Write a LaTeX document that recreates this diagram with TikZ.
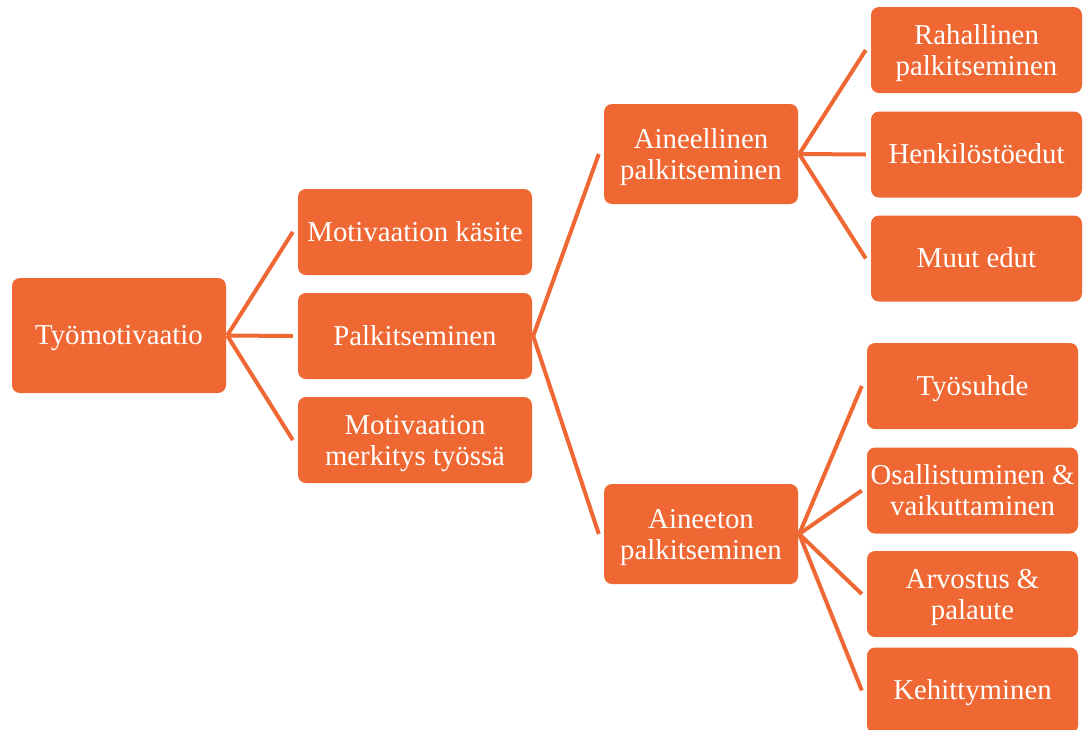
\documentclass[tikz,border=0pt]{standalone}
\usepackage{fontspec}
\setmainfont{Liberation Serif}
\definecolor{boxorange}{RGB}{239,104,51}
\newcommand{\topstrut}{\rule{0pt}{27pt}}
\newcommand{\botstrut}{\rule[-9pt]{0pt}{9pt}}
\newcommand{\twolines}[2]{\raisebox{-3.5pt}[\height][\depth]{\begin{tabular}{@{}c@{}}#1\\#2\end{tabular}}}
\tikzset{
  box/.style={fill=boxorange, draw=none, rounded corners=8pt, text=white,
    align=center, inner sep=0pt, font=\fontsize{28.8}{31}\selectfont},
  one/.style={execute at begin node=\topstrut, execute at end node=\botstrut},
  lvlA/.style={box, minimum width=214pt, minimum height=115pt},
  lvlB/.style={box, minimum width=234pt, minimum height=86pt},
  lvlC/.style={box, minimum width=194pt, minimum height=100pt},
  lvlD/.style={box, minimum width=211pt, minimum height=86pt},
  conn/.style={draw=boxorange, line width=4pt, line cap=butt}
}
\begin{document}
\begin{tikzpicture}[x=1pt,y=-1pt]
\useasboundingbox (0,0) rectangle (1083,729);
\clip (0,0) rectangle (1083,729);
% level 1
\node[lvlA,one] (root) at (119,335.5) {Työmotivaatio};
% level 2
\node[lvlB,one] (kas) at (415,232) {Motivaation käsite};
\node[lvlB,one] (pal) at (415,336) {Palkitseminen};
\node[lvlB] (mer) at (415,440) {\twolines{Motivaation}{merkitys työssä}};
% level 3
\node[lvlC] (ainl) at (701,154) {\twolines{Aineellinen}{palkitseminen}};
\node[lvlC] (aint) at (701,534) {\twolines{Aineeton}{palkitseminen}};
% level 4
\node[lvlD] (rah) at (976.5,50) {\twolines{Rahallinen}{palkitseminen}};
\node[lvlD,one] (hen) at (976.5,154.5) {Henkilöstöedut};
\node[lvlD,one] (muu) at (976.5,258.5) {Muut edut};
\node[lvlD,one] (tyo) at (972.5,386) {Työsuhde};
\node[lvlD] (osa) at (972.5,490.5) {\twolines{Osallistuminen \&}{vaikuttaminen}};
\node[lvlD] (arv) at (972.5,594) {\twolines{Arvostus \&}{palaute}};
\node[lvlD,one] (keh) at (972.5,690.5) {Kehittyminen};
% connectors
\foreach \c in {kas,pal,mer}
  \draw[conn] ([xshift=1pt]root.east) -- ([xshift=-5pt]\c.west);
\foreach \c in {ainl,aint}
  \draw[conn] ([xshift=1pt]pal.east) -- ([xshift=-5pt]\c.west);
\foreach \c in {rah,hen,muu}
  \draw[conn] ([xshift=1pt]ainl.east) -- ([xshift=-5pt]\c.west);
\foreach \c in {tyo,osa,arv,keh}
  \draw[conn] ([xshift=1pt]aint.east) -- ([xshift=-5pt]\c.west);
\end{tikzpicture}
\end{document}
